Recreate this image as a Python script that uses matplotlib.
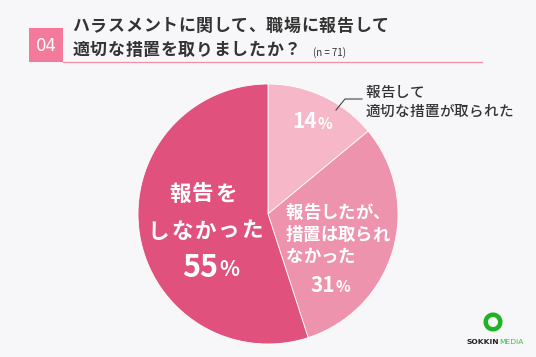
import matplotlib.pyplot as plt
from matplotlib.patches import Rectangle, Wedge

plt.rcParams['font.family'] = ['Noto Sans CJK JP', 'DejaVu Sans']

# data
labels = ['報告して\n適切な措置が取られた', '報告したが、\n措置は取られ\nなかった', '報告を\nしなかった']
shares = [14, 31, 55]
slice_colors = ['#F6B8C8', '#EE93AE', '#E0527D']

title_no = '04'
title_lines = ['ハラスメントに関して、職場に報告して', '適切な措置を取りましたか？']
n_note = '(n = 71)'

bg = '#F7F7F9'
txt = '#333333'
W, H = 536, 357

fig = plt.figure(figsize=(5.36, 3.57), dpi=100)
fig.patch.set_facecolor(bg)

# pie in its own axes (pixel box: x 138-398, y 84-344)
pax = fig.add_axes([138 / W, (H - 344) / H, 260 / W, 260 / H])
pax.pie(shares, colors=slice_colors, startangle=90, counterclock=False,
        wedgeprops=dict(edgecolor='#FFFFFF', linewidth=0.6))
pax.set_xlim(-1, 1)
pax.set_ylim(-1, 1)
pax.set_aspect('equal')
pax.axis('off')

# overlay in pixel coords
ax = fig.add_axes([0, 0, 1, 1])
ax.set_xlim(0, W)
ax.set_ylim(H, 0)
ax.axis('off')
ax.patch.set_alpha(0)


def spaced(x, y, s, step, **kw):
    # one glyph per slot, to get the wide letter spacing of the original
    for i, ch in enumerate(s):
        ax.text(x + i * step + step / 2, y, ch, ha='center', va='center', **kw)


# header
ax.add_patch(Rectangle((29, 28), 34, 34, color='#F47A9B', lw=0))
ax.text(46, 46, title_no, color='white', fontsize=12, ha='center', va='center', family='DejaVu Sans')
ax.plot([63, 482], [62, 62], color='#EE8FA8', lw=0.9)
spaced(72, 26, title_lines[0], 17.6, color=txt, fontsize=12.2, fontweight='bold')
spaced(72, 50, title_lines[1], 17.6, color=txt, fontsize=12.2, fontweight='bold')
ax.text(313, 53, n_note, color=txt, fontsize=7, va='center')

# 55% slice
l1, l2 = labels[2].split('\n')
spaced(168, 194, l1, 23.3, color='white', fontsize=15.5, fontweight='bold')
spaced(147, 231, l2, 23.3, color='white', fontsize=15.5, fontweight='bold')
ax.text(218, 268, f'{shares[2]}', color='white', fontsize=22, fontweight='bold', ha='right', va='center')
ax.text(219, 270, '%', color='white', fontsize=15, fontweight='bold', ha='left', va='center')

# 31% slice
for i, line in enumerate(labels[1].split('\n')):
    spaced(286, 213 + i * 22, line, 17.2, color='white', fontsize=12.5, fontweight='bold')
ax.text(335, 285, f'{shares[1]}', color='white', fontsize=15, fontweight='bold', ha='right', va='center')
ax.text(336, 287, '%', color='white', fontsize=11, fontweight='bold', ha='left', va='center')

# 14% slice
ax.text(317, 122, f'{shares[0]}', color='white', fontsize=15, fontweight='bold', ha='right', va='center')
ax.text(318, 124, '%', color='white', fontsize=11, fontweight='bold', ha='left', va='center')

# outside label with leader
ax.plot([336, 345, 362], [110, 99, 99], color='#444444', lw=0.8)
o1, o2 = labels[0].split('\n')
spaced(365, 93, o1, 14.8, color=txt, fontsize=10.5, fontweight='medium')
spaced(365, 112, o2, 14.8, color=txt, fontsize=10.5, fontweight='medium')

# logo
ax.add_patch(Wedge((493, 322), 9.5, 0, 360, width=4.5, color='#1DB324', lw=0))
ax.text(499, 342, 'SOKKIN', color='#222222', fontsize=5.4, fontweight='bold', ha='right', va='center', family='DejaVu Sans')
ax.text(499, 342, 'MEDIA', color='#3CBF3C', fontsize=5.4, ha='left', va='center', family='DejaVu Sans')

fig.savefig('out.png', dpi=100, facecolor=bg)
